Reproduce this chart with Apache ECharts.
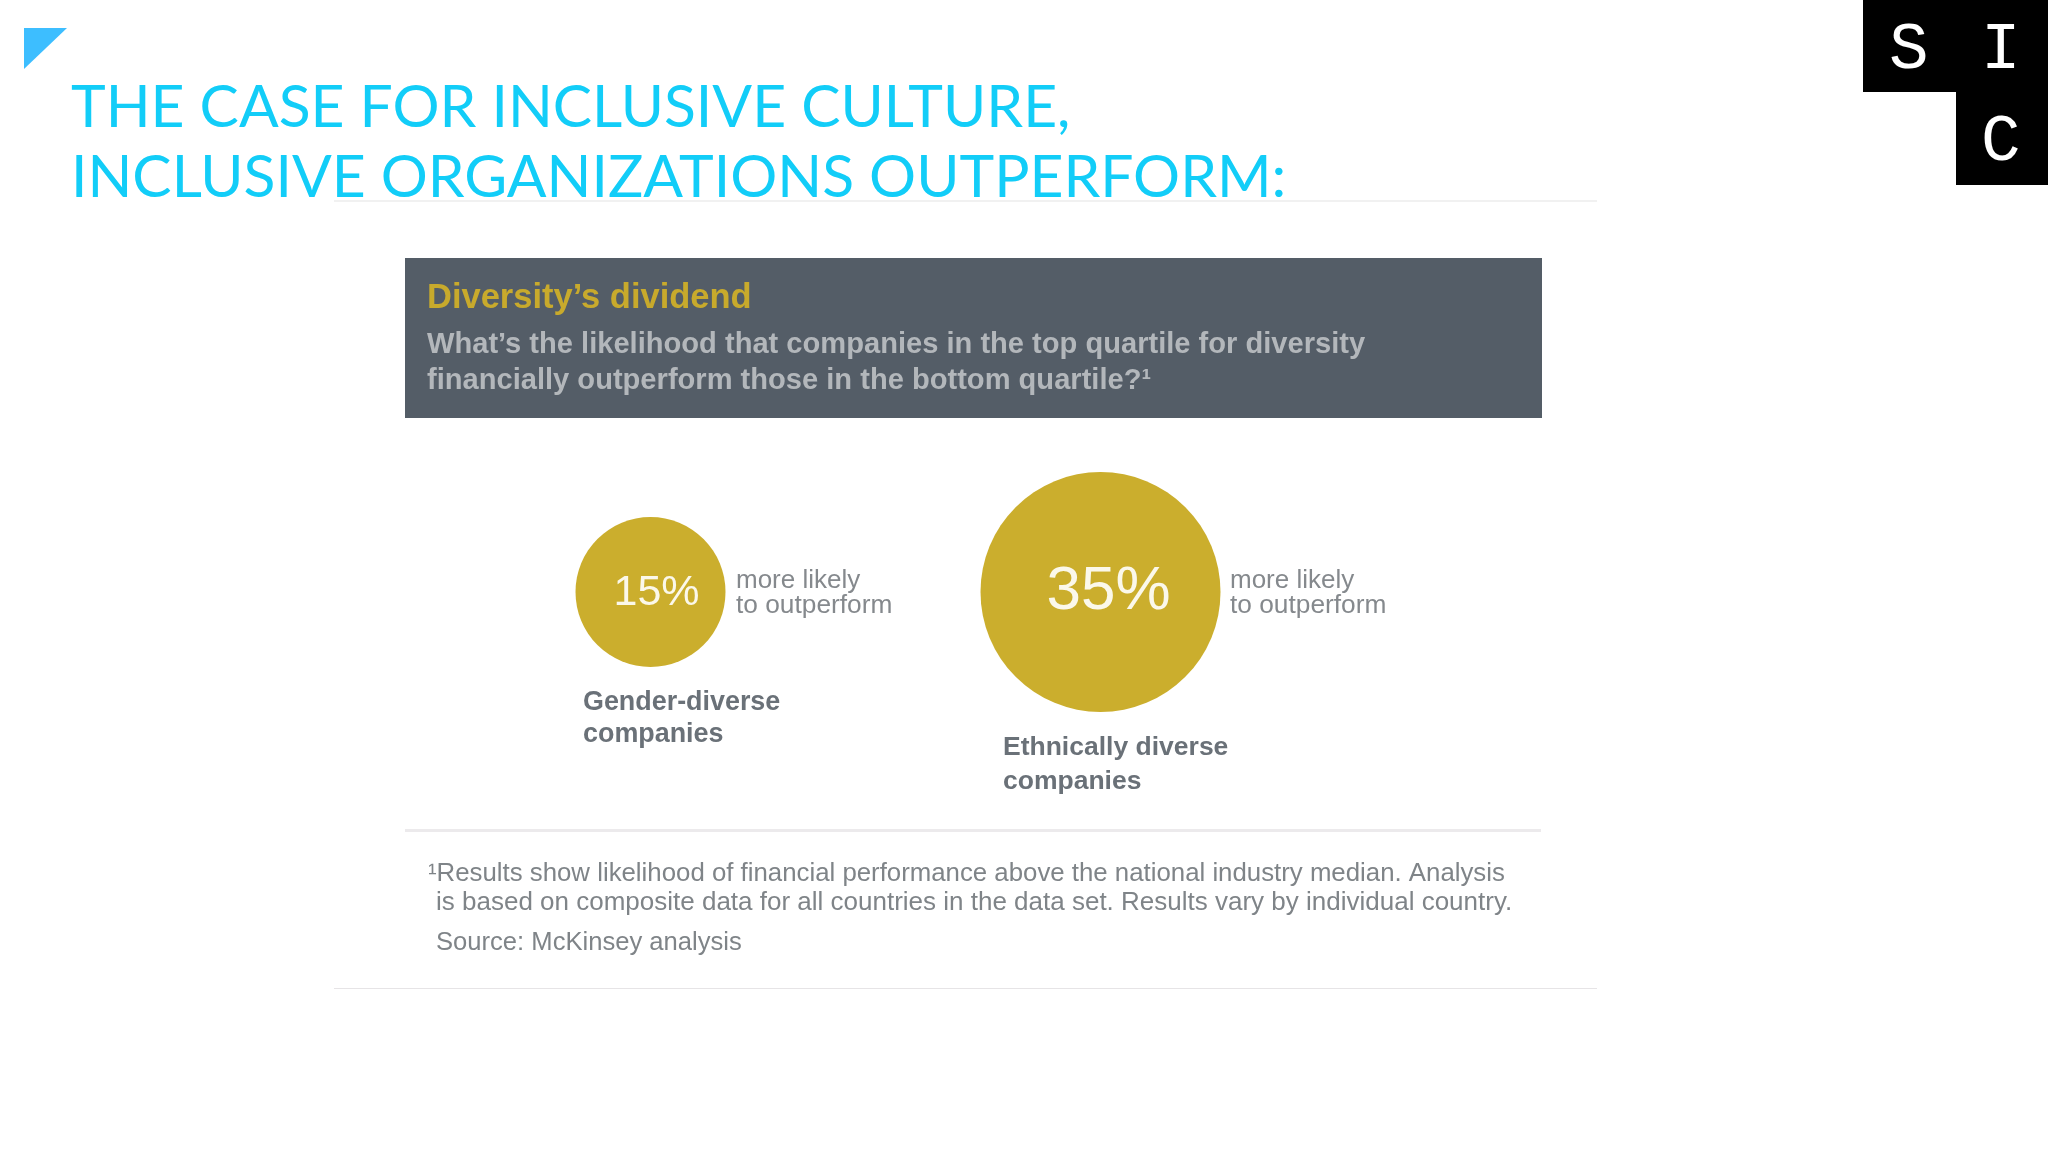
<!DOCTYPE html>
<html><head><meta charset="utf-8">
<style>html,body{margin:0;padding:0;background:#fff}#c{width:2048px;height:1152px}</style>
<script src="https://cdn.jsdelivr.net/npm/echarts@6/dist/echarts.min.js"></script></head>
<body><div id="c"></div>
<script>
const categories = ['Gender-diverse companies', 'Ethnically diverse companies'];
const values = [15, 35];
const titleLines = ['THE CASE FOR INCLUSIVE CULTURE,', 'INCLUSIVE ORGANIZATIONS OUTPERFORM:'];
const headline = "Diversity\u2019s dividend";
const questionLines = ['What\u2019s the likelihood that companies in the top quartile for diversity', 'financially outperform those in the bottom quartile?\u00B9'];
const sideLines = ['more likely', 'to outperform'];
const categoryLines = [['Gender-diverse', 'companies'], ['Ethnically diverse', 'companies']];
const footLines = ['\u00B9Results show likelihood of financial performance above the national industry median. Analysis', 'is based on composite data for all countries in the data set. Results vary by individual country.', 'Source: McKinsey analysis'];
const logoLetters = ['S', 'I', 'C'];

const SANS = '"Liberation Sans", Arial, sans-serif';
const txt = (x, y, text, size, color, weight, family) => ({
  type: 'text', x, y, silent: true,
  style: { text, fontSize: size, fill: color, fontWeight: weight || 'normal', fontFamily: family || SANS }
});
const soft = (x, y, text, size, color, weight) => {
  const t = txt(x, y, text, size, color, weight);
  t.style.shadowBlur = 3;
  t.style.shadowColor = color;
  return t;
};
const rect = (x, y, width, height, fill) => ({ type: 'rect', silent: true, shape: { x, y, width, height }, style: { fill } });

const graphics = [
  { type: 'polygon', silent: true, shape: { points: [[24, 28], [67, 28], [24, 69]] }, style: { fill: '#3DBEFF' } },
  rect(334, 200.5, 1263, 1, '#E4E4E4'),
  rect(334, 988, 1263, 1, '#E6E4E6'),
  rect(405, 829, 1136, 3, '#ECEAEC'),
  rect(405, 258, 1137, 160, '#545D67'),
  rect(1863, 0, 185, 92, '#000'),
  rect(1956, 92, 92, 93, '#000'),
  txt(71, 79, titleLines[0], 58.8, '#12CDF8', 'normal', 'Lato'),
  txt(71, 149, titleLines[1], 58.8, '#12CDF8', 'normal', 'Lato'),
  soft(427, 281, headline, 34.5, '#C8AA2C', 'bold'),
  soft(427, 330.5, questionLines[0], 29.1, '#B3B7BB', 'bold'),
  soft(427, 366, questionLines[1], 29.1, '#B3B7BB', 'bold'),
  soft(736, 568, sideLines[0], 26, '#85898D'),
  soft(736, 593, sideLines[1], 26.3, '#85898D'),
  soft(1230, 568, sideLines[0], 26, '#85898D'),
  soft(1230, 593, sideLines[1], 26.3, '#85898D'),
  soft(583, 689, categoryLines[0][0], 26.9, '#6A7178', 'bold'),
  soft(583, 721, categoryLines[0][1], 26.9, '#6A7178', 'bold'),
  soft(1003, 734, categoryLines[1][0], 26.5, '#6A7178', 'bold'),
  soft(1003, 768, categoryLines[1][1], 26.5, '#6A7178', 'bold'),
  soft(428, 861, footLines[0], 25.8, '#7F8488'),
  soft(436, 890, footLines[1], 26, '#7F8488'),
  soft(436, 930, footLines[2], 25.6, '#7F8488'),
  txt(1889, 18, logoLetters[0], 66, '#fff', 'normal', '"Liberation Mono"'),
  txt(1981, 18, logoLetters[1], 66, '#fff', 'normal', '"Liberation Mono"'),
  txt(1981, 110, logoLetters[2], 66, '#fff', 'normal', '"Liberation Mono"')
];

const labelStyles = [{ fontSize: 43, offset: [6, 1] }, { fontSize: 62, offset: [8, 0] }];

const chart = echarts.init(document.getElementById('c'), null, { renderer: 'canvas' });
chart.setOption({
  animation: false,
  backgroundColor: '#fff',
  singleAxis: {
    type: 'category', data: categories, left: 425.5, width: 900, top: 492, height: 200,
    axisLine: { show: false }, axisTick: { show: false }, axisLabel: { show: false }, splitLine: { show: false }, splitArea: { show: false }
  },
  graphic: { elements: graphics },
  series: [{
    type: 'scatter', coordinateSystem: 'singleAxis', silent: true,
    symbolSize: d => 150 + (d[1] - 15) * 4.5,
    itemStyle: { color: '#CBAE2D', opacity: 1 },
    z: 5,
    data: values.map((v, i) => ({
      value: [categories[i], v],
      label: { show: true, position: 'inside', formatter: v + '%', color: '#FBF8EA', fontFamily: SANS, fontWeight: 'normal', fontSize: labelStyles[i].fontSize, offset: labelStyles[i].offset }
    }))
  }]
});
</script></body></html>
